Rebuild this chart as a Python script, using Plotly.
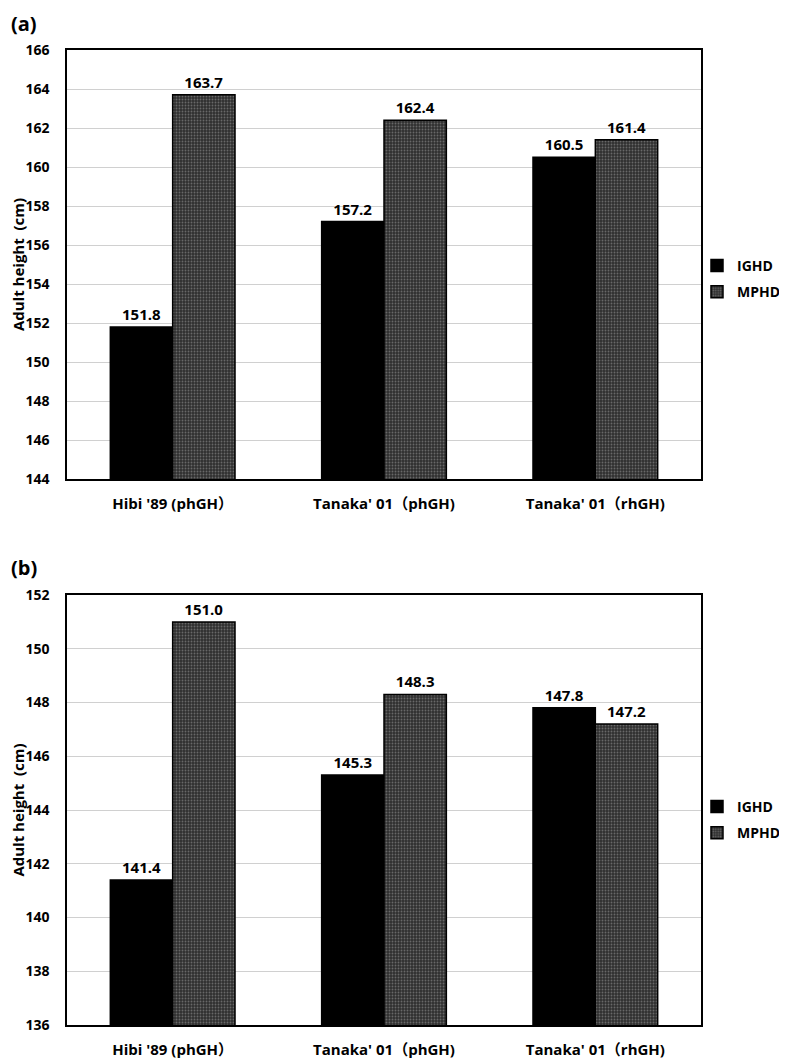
import plotly.graph_objects as go

categories = ["Hibi '89 (phGH）", "Tanaka' 01（phGH)", "Tanaka' 01（rhGH)"]
series_names = ["IGHD", "MPHD"]
a_ighd = [151.8, 157.2, 160.5]
a_mphd = [163.7, 162.4, 161.4]
b_ighd = [141.4, 145.3, 147.8]
b_mphd = [151.0, 148.3, 147.2]
a_range = [144, 166]
b_range = [136, 152]
ytitle = "Adult height  (cm)"
panel_labels = ["(a)", "(b)"]

# page has an 8px body margin; work in figure coordinates = page - 8
OFF = 8
W, H = 787 - OFF, 1063 - OFF
FONT = "Open Sans, Noto Sans CJK JP, sans-serif"

def fx(p):
    return (p - OFF) / W

def fy(p):
    return 1 - (p - OFF) / H

xdom = [fx(67), fx(701)]
doms = {"a": [fy(479), fy(50)], "b": [fy(1025), fy(595)]}

fig = go.Figure()

def add_panel(ighd, mphd, xa, ya, leg):
    fig.add_trace(go.Bar(
        x=categories, y=ighd, name=series_names[0], xaxis=xa, yaxis=ya, legend=leg,
        legendgroup=leg + "1",
        marker=dict(color="black", line=dict(color="black", width=1.5)),
        texttemplate="%{y:.1f}", textposition="outside",
        textfont=dict(family=FONT, size=15, color="black", weight="bold"),
        cliponaxis=False,
    ))
    fig.add_trace(go.Bar(
        x=categories, y=mphd, name=series_names[1], xaxis=xa, yaxis=ya, legend=leg,
        legendgroup=leg + "2",
        marker=dict(color="#303030", line=dict(color="black", width=1.5),
                    pattern=dict(shape=".", fgcolor="#a0a0a0", size=3, solidity=0.3)),
        texttemplate="%{y:.1f}", textposition="outside",
        textfont=dict(family=FONT, size=15, color="black", weight="bold"),
        cliponaxis=False,
    ))

add_panel(a_ighd, a_mphd, "x", "y", "legend")
add_panel(b_ighd, b_mphd, "x2", "y2", "legend2")

axis_common = dict(showline=True, linecolor="black", linewidth=1.5, mirror=True,
                   tickfont=dict(family=FONT, size=14, color="black", weight="bold"))
xtick_font = dict(family=FONT, size=15, color="black", weight="bold")
ytitle_cfg = dict(text=ytitle, standoff=2,
                  font=dict(family=FONT, size=15, color="black", weight="bold"))

leg_common = dict(xanchor="left", yanchor="middle",
                  font=dict(family=FONT, size=14, color="black", weight="bold"),
                  itemwidth=30, tracegroupgap=5, bgcolor="rgba(0,0,0,0)")

fig.update_layout(
    width=W, height=H,
    margin=dict(l=0, r=0, t=0, b=0, autoexpand=False),
    paper_bgcolor="white", plot_bgcolor="white",
    barmode="group", bargap=0.41, bargroupgap=0,
    font=dict(family=FONT, color="black"),
    xaxis=dict(domain=xdom, anchor="y", ticks="outside", ticklen=10, tickcolor="rgba(0,0,0,0)",
               **{**axis_common, "tickfont": xtick_font}),
    yaxis=dict(domain=doms["a"], anchor="x", range=a_range, dtick=2, title=ytitle_cfg,
               showgrid=True, gridcolor="#d0d0d0", gridwidth=1,
               ticks="outside", ticklen=13, tickcolor="rgba(0,0,0,0)", **axis_common),
    xaxis2=dict(domain=xdom, anchor="y2", ticks="outside", ticklen=10, tickcolor="rgba(0,0,0,0)",
                **{**axis_common, "tickfont": xtick_font}),
    yaxis2=dict(domain=doms["b"], anchor="x2", range=b_range, dtick=2, title=ytitle_cfg,
                showgrid=True, gridcolor="#d0d0d0", gridwidth=1,
                ticks="outside", ticklen=13, tickcolor="rgba(0,0,0,0)", **axis_common),
    legend=dict(x=fx(697), y=fy(279), **leg_common),
    legend2=dict(x=fx(697), y=fy(820), **leg_common),
)

for lab, ypx in zip(panel_labels, [8, 552]):
    fig.add_annotation(text=lab, xref="paper", yref="paper", x=fx(9), y=fy(ypx),
                       xanchor="left", yanchor="top", showarrow=False,
                       font=dict(family=FONT, size=20, color="black", weight="bold"))

fig.write_html("out.html")
